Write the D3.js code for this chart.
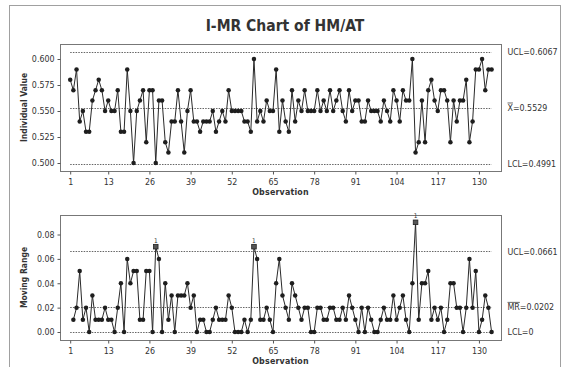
<!DOCTYPE html>
<html><head><meta charset="utf-8">
<script src="https://cdn.jsdelivr.net/npm/d3@7"></script>
<style>
html,body{margin:0;padding:0;background:#fff;}
svg{display:block;}
text{font-family:"DejaVu Sans Condensed","DejaVu Sans",sans-serif;fill:#333;}
</style></head><body>
<svg id="c" width="562" height="367"></svg>
<script>
// ---- data ----
const title = "I-MR Chart of HM/AT";
const individualValues = [
 0.58,0.57,0.59,0.54,0.55,0.53,0.53,0.56,0.57,0.58,
 0.57,0.55,0.56,0.55,0.55,0.57,0.53,0.53,0.59,0.55,
 0.50,0.55,0.56,0.57,0.52,0.57,0.57,0.50,0.56,0.56,
 0.52,0.51,0.54,0.54,0.57,0.54,0.51,0.55,0.57,0.54,
 0.54,0.53,0.54,0.54,0.54,0.55,0.53,0.54,0.55,0.54,
 0.57,0.55,0.55,0.55,0.55,0.54,0.54,0.53,0.60,0.54,
 0.55,0.54,0.56,0.55,0.55,0.59,0.53,0.56,0.54,0.53,
 0.57,0.54,0.56,0.55,0.57,0.55,0.55,0.55,0.57,0.55,
 0.56,0.55,0.57,0.55,0.56,0.57,0.55,0.54,0.57,0.55,
 0.56,0.56,0.54,0.54,0.56,0.55,0.55,0.55,0.54,0.56,
 0.55,0.54,0.57,0.56,0.54,0.57,0.56,0.56,0.60,0.51,
 0.52,0.56,0.52,0.57,0.58,0.56,0.55,0.57,0.57,0.56,
 0.52,0.56,0.54,0.56,0.56,0.58,0.52,0.54,0.59,0.59,
 0.60,0.57,0.59,0.59];
// moving ranges for observations 2..134
const movingRanges = [
 0.01,0.02,0.05,0.01,0.02,0.00,0.03,0.01,0.01,
 0.01,0.02,0.01,0.01,0.00,0.02,0.04,0.00,0.06,0.04,
 0.05,0.05,0.01,0.01,0.05,0.05,0.00,0.07,0.06,0.00,
 0.04,0.01,0.03,0.00,0.03,0.03,0.03,0.04,0.02,0.03,
 0.00,0.01,0.01,0.00,0.00,0.01,0.02,0.01,0.01,0.01,
 0.03,0.02,0.00,0.00,0.00,0.01,0.00,0.01,0.07,0.06,
 0.01,0.01,0.02,0.01,0.00,0.04,0.06,0.03,0.02,0.01,
 0.04,0.03,0.02,0.01,0.02,0.02,0.00,0.00,0.02,0.02,
 0.01,0.01,0.02,0.02,0.01,0.01,0.02,0.01,0.03,0.02,
 0.01,0.00,0.02,0.00,0.02,0.01,0.00,0.00,0.01,0.02,
 0.01,0.01,0.03,0.01,0.02,0.03,0.01,0.00,0.04,0.09,
 0.01,0.04,0.04,0.05,0.01,0.02,0.01,0.02,0.00,0.01,
 0.04,0.04,0.02,0.02,0.00,0.02,0.06,0.02,0.05,0.00,
 0.01,0.03,0.02,0.00];
const iTicks = [0.500,0.525,0.550,0.575,0.600];
const mrTicks = [0.00,0.02,0.04,0.06,0.08];
const obsTicks = [1,13,26,39,52,65,78,91,104,117,130];
const iLimitValues = [0.6067,0.5529,0.4991];
const iLimitBars = ["","X",""];
const iLimitTexts = ["UCL=0.6067","=0.5529","LCL=0.4991"];
const mrLimitValues = [0.0661,0.0202,0];
const mrLimitBars = ["","MR",""];
const mrLimitTexts = ["UCL=0.0661","=0.0202","LCL=0"];
const yTitles = ["Individual Value","Moving Range"];
const xTitle = "Observation";

// ---- drawing ----
const svg = d3.select("#c");
svg.append("rect").attr("x",9.5).attr("y",5.5).attr("width",551).attr("height",380)
  .attr("fill","none").attr("stroke","#a0a0a0");
svg.append("text").attr("x",285).attr("y",31).attr("text-anchor","middle")
  .attr("font-weight","bold").attr("font-size",15.5).attr("fill","#333").text(title);

const n = individualValues.length;
const x = d3.scaleLinear().domain([1, n]).range([70.2, 491.6]);
const FL = 60, FR = 501;

function panel(cfg){
  const g = svg.append("g");
  const y = d3.scaleLinear().domain(cfg.ydom).range(cfg.yrng);
  g.append("rect").attr("x",FL+0.5).attr("y",cfg.top+0.5)
    .attr("width",FR-FL).attr("height",cfg.bottom-cfg.top)
    .attr("fill","none").attr("stroke","#777");
  const ay = g.append("g").attr("transform",`translate(${FL+0.5},0)`)
    .call(d3.axisLeft(y).tickValues(cfg.ticks).tickFormat(cfg.fmt).tickSize(3).tickPadding(3));
  const ax = g.append("g").attr("transform",`translate(0,${cfg.bottom+0.5})`)
    .call(d3.axisBottom(x).tickValues(obsTicks).tickFormat(d3.format("d")).tickSize(3).tickPadding(4));
  [ay,ax].forEach(a=>{
    a.select(".domain").remove();
    a.selectAll("line").attr("stroke","#555");
    a.selectAll("text").attr("font-size",8.8).attr("fill","#333")
      .attr("font-family",'"DejaVu Sans Condensed","DejaVu Sans",sans-serif');
  });
  cfg.limits.forEach((v,i)=>{
    g.append("line").attr("x1",x(1)).attr("x2",x(n))
      .attr("y1",Math.round(y(v))+0.5).attr("y2",Math.round(y(v))+0.5)
      .attr("stroke","#666").attr("stroke-width",1).attr("stroke-dasharray","1.5,1.2");
    const t = g.append("text").attr("x",507.5).attr("y",y(v)).attr("dy","0.35em")
      .attr("font-size",8.8).attr("fill","#444");
    const b = t.append("tspan").text(cfg.bars[i]);
    t.append("tspan").text(cfg.texts[i]);
    if(cfg.bars[i]){
      const w = b.node().getComputedTextLength();
      const yy = y(v) - 5;
      g.append("line").attr("x1",507.5).attr("x2",507.5+w).attr("y1",yy).attr("y2",yy)
        .attr("stroke","#444").attr("stroke-width",0.8);
    }
  });
  const pts = cfg.values.map((v,i)=>({o:i+cfg.start, v}));
  g.append("path").datum(pts).attr("fill","none").attr("stroke","#2a2a2a").attr("stroke-width",1)
    .attr("d",d3.line().x(d=>x(d.o)).y(d=>y(d.v)));
  const ucl = cfg.limits[0], lcl = cfg.limits[2];
  const ooc = d=> d.v > ucl || (cfg.checkLow && d.v < lcl);
  g.selectAll("circle.p").data(pts.filter(d=>!ooc(d))).join("circle")
    .attr("cx",d=>x(d.o)).attr("cy",d=>y(d.v)).attr("r",2.25).attr("fill","#1e1e1e");
  const bad = pts.filter(ooc);
  g.selectAll("rect.o").data(bad).join("rect")
    .attr("x",d=>x(d.o)-2.3).attr("y",d=>y(d.v)-2.3).attr("width",4.6).attr("height",4.6)
    .attr("fill","#555").attr("stroke","#222").attr("stroke-width",0.8);
  g.selectAll("text.o").data(bad).join("text")
    .attr("x",d=>x(d.o)).attr("y",d=>y(d.v)-4).attr("text-anchor","middle")
    .attr("font-size",6.5).attr("fill","#222").text("1");
  g.append("text").attr("transform",`translate(27,${(cfg.top+cfg.bottom)/2}) rotate(-90)`)
    .attr("text-anchor","middle").attr("font-weight","bold").attr("font-size",8.5)
    .attr("font-family",'"DejaVu Sans",sans-serif').text(cfg.ytitle);
  g.append("text").attr("x",(FL+FR)/2).attr("y",cfg.bottom+24).attr("text-anchor","middle")
    .attr("font-weight","bold").attr("font-size",8.8).attr("letter-spacing",0.2)
    .attr("font-family",'"DejaVu Sans",sans-serif').text(xTitle);
}

panel({top:44, bottom:171, ydom:[0.5,0.6], yrng:[163,59], ticks:iTicks, fmt:d3.format(".3f"),
  limits:iLimitValues, bars:iLimitBars, texts:iLimitTexts, values:individualValues, start:1,
  checkLow:true, ytitle:yTitles[0]});
panel({top:215, bottom:340, ydom:[0,0.08], yrng:[332,234.5], ticks:mrTicks, fmt:d3.format(".2f"),
  limits:mrLimitValues, bars:mrLimitBars, texts:mrLimitTexts, values:movingRanges, start:2,
  checkLow:false, ytitle:yTitles[1]});
</script>
</body></html>
